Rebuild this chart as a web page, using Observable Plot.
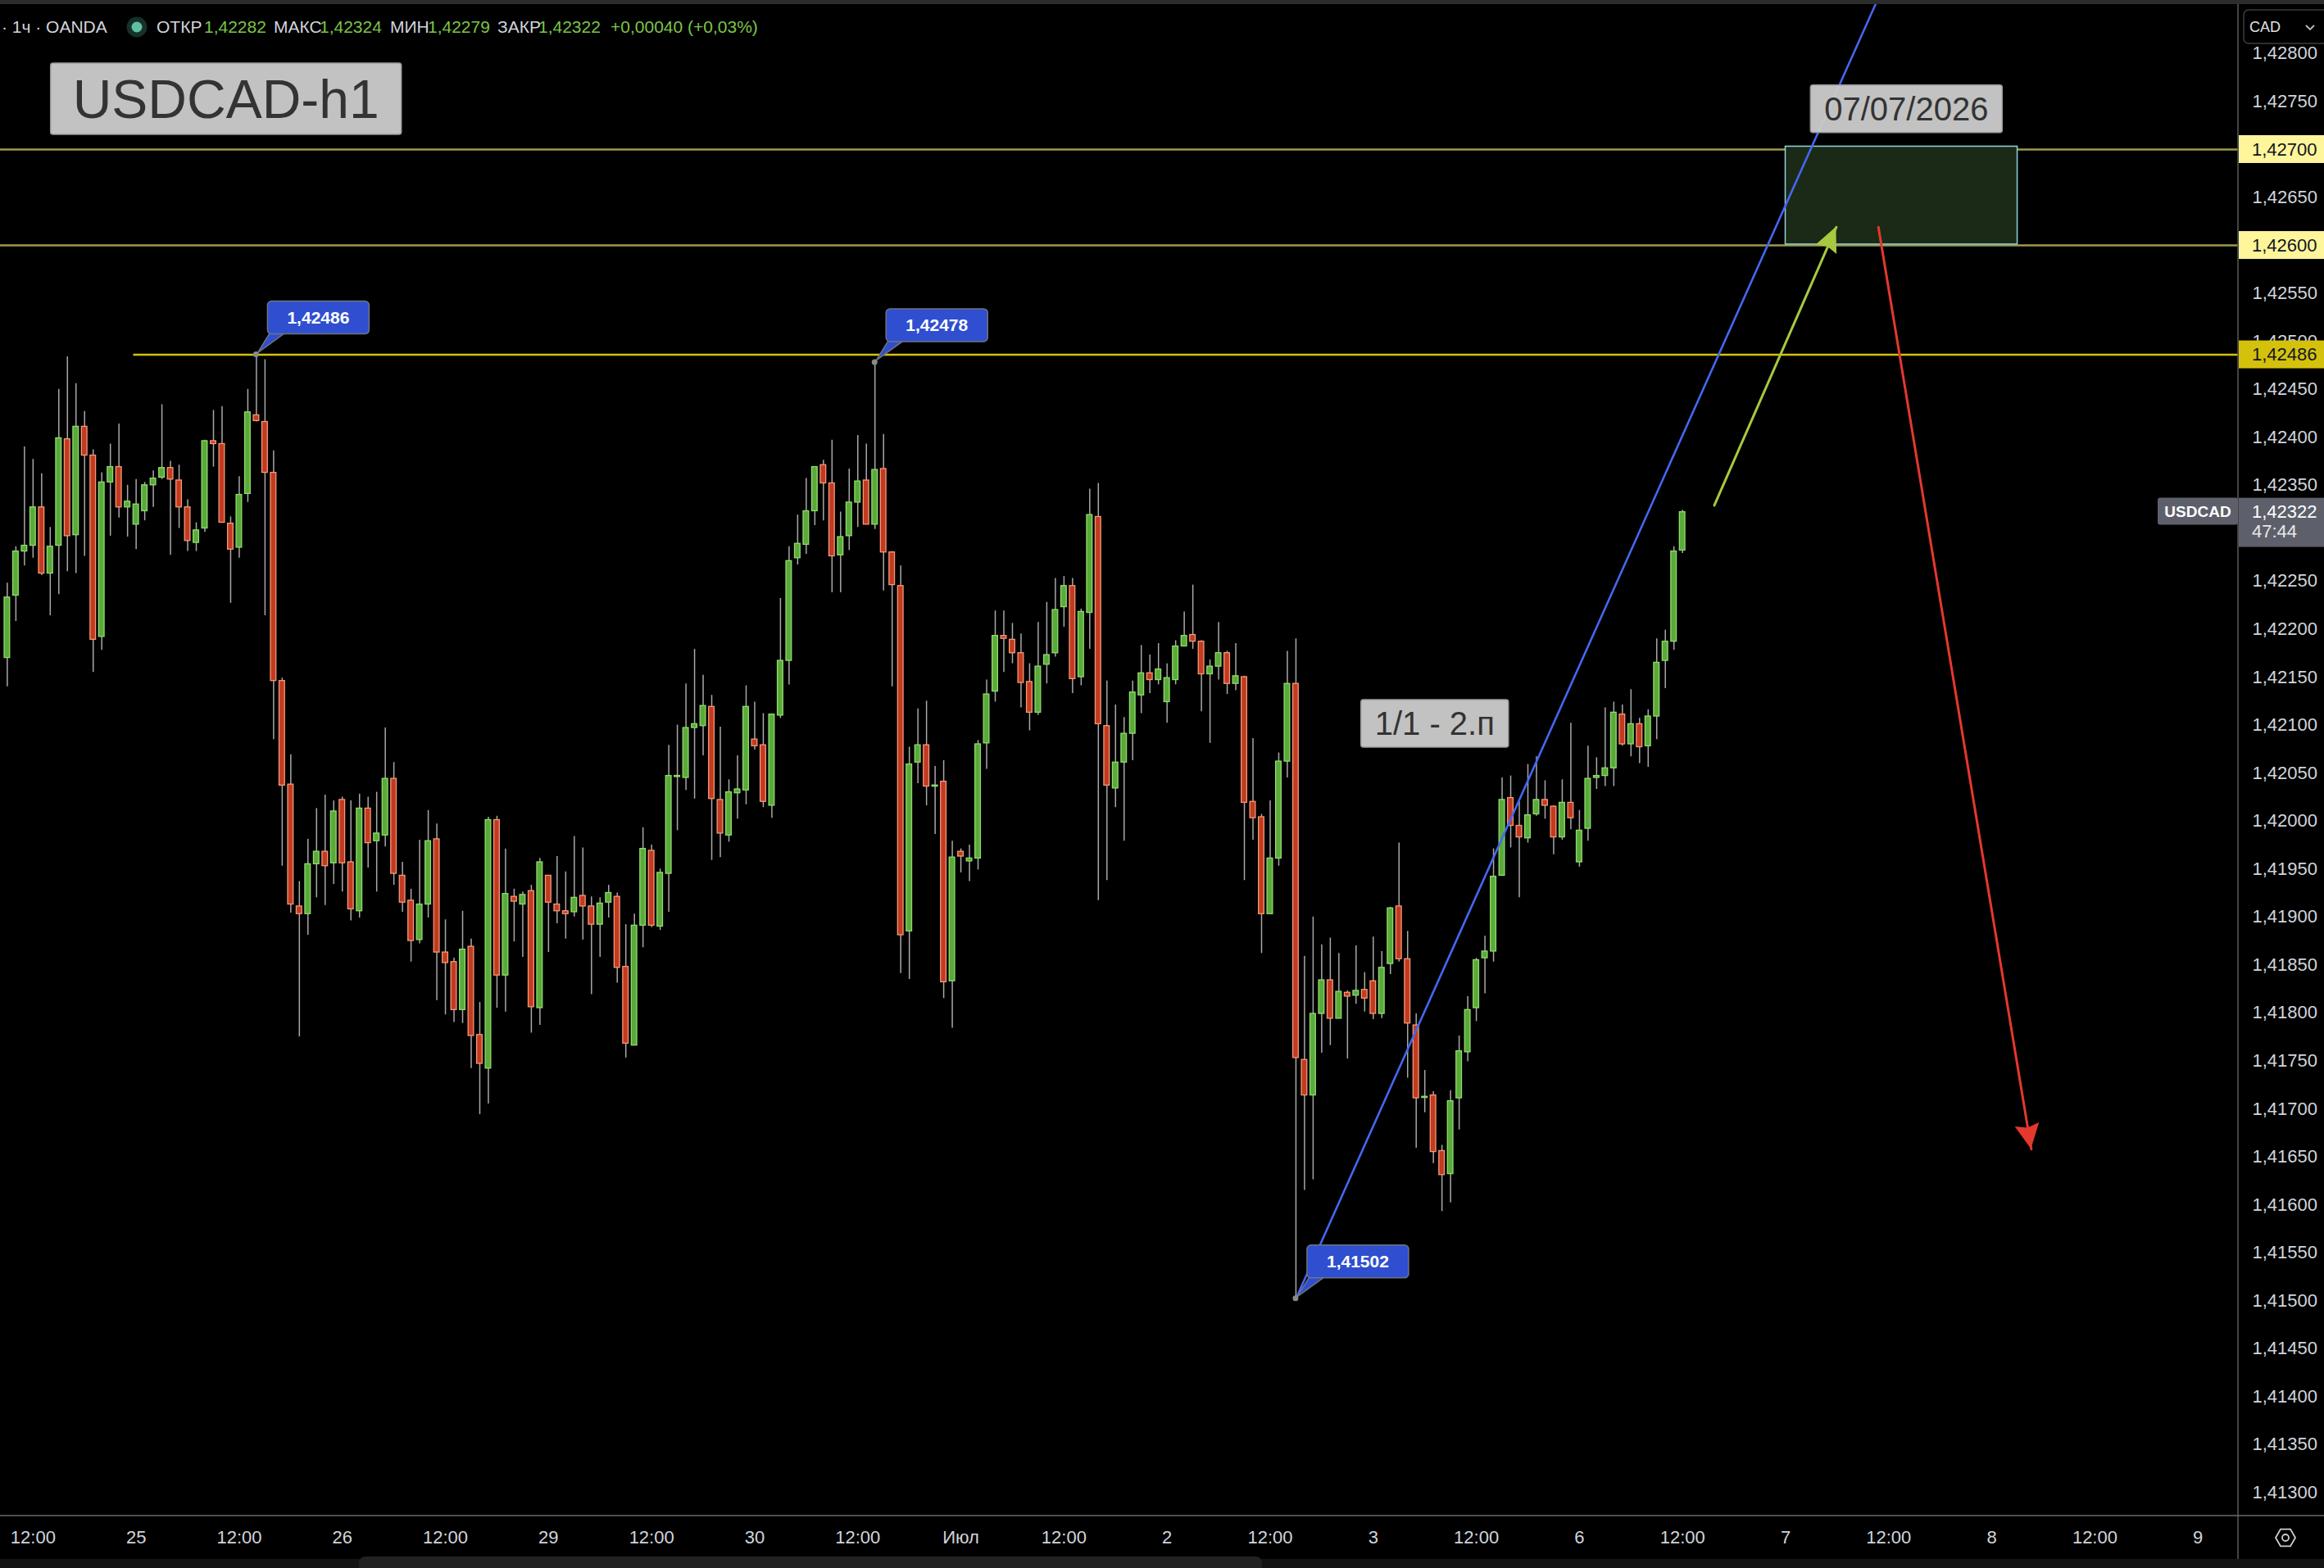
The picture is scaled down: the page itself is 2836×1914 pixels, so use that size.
<!DOCTYPE html>
<html><head><meta charset="utf-8">
<script src="https://cdn.jsdelivr.net/npm/d3@7"></script>
<script src="https://cdn.jsdelivr.net/npm/@observablehq/plot@0.6"></script>
<style>html,body{margin:0;padding:0;background:#000;overflow:hidden}</style>
</head><body><div id="chart"></div>
<script>
// ---- hourly OHLC bars (USDCAD, OANDA, 1h) ----
const firstBarHour = 9; // hours since 24 Jun 00:00 on the trading-time axis
const openP = [1.42170,1.42235,1.42281,1.42287,1.42327,1.42258,1.42287,1.42398,1.42298,1.42411,1.42381,1.42192,1.42353,1.42369,1.42327,1.42309,1.42323,1.42350,1.42358,1.42368,1.42355,1.42327,1.42290,1.42305,1.42396,1.42393,1.42310,1.42285,1.42341,1.42423,1.42416,1.42363,1.42146,1.42038,1.41911,1.41903,1.41955,1.41968,1.41956,1.42022,1.41957,1.41906,1.42013,1.41979,1.41985,1.42044,1.41943,1.41917,1.41876,1.41913,1.41981,1.41863,1.41853,1.41803,1.41869,1.41777,1.41742,1.42001,1.41839,1.41921,1.41913,1.41927,1.41805,1.41943,1.41913,1.41906,1.41905,1.41922,1.41911,1.41892,1.41915,1.41921,1.41848,1.41766,1.41891,1.41969,1.41890,1.41945,1.42046,1.42045,1.42097,1.42099,1.42119,1.42022,1.41985,1.42029,1.42032,1.42085,1.42079,1.42016,1.42110,1.42167,1.42274,1.42288,1.42323,1.42371,1.42352,1.42277,1.42297,1.42332,1.42355,1.42309,1.42367,1.42280,1.42245,1.41885,1.42061,1.42079,1.42036,1.42041,1.41833,1.41968,1.41958,1.41961,1.42081,1.42135,1.42193,1.42189,1.42175,1.42145,1.42113,1.42163,1.42175,1.42223,1.42245,1.42150,1.42217,1.42317,1.42099,1.42034,1.42061,1.42091,1.42131,1.42154,1.42147,1.42124,1.42147,1.42182,1.42194,1.42187,1.42153,1.42161,1.42175,1.42143,1.42150,1.42020,1.42004,1.41903,1.41961,1.42062,1.42143,1.41751,1.41714,1.41799,1.41834,1.41794,1.41821,1.41818,1.41824,1.41833,1.41799,1.41851,1.41911,1.41856,1.41787,1.41712,1.41714,1.41656,1.41632,1.41711,1.41759,1.41805,1.41857,1.41864,1.41943,1.42024,1.41995,1.41982,1.42007,1.42022,1.42015,1.41983,1.42019,1.41957,1.41992,1.42045,1.42047,1.42055,1.42111,1.42080,1.42101,1.42078,1.42109,1.42167,1.42187,1.42282];
const highP = [1.42248,1.42286,1.42390,1.42377,1.42362,1.42306,1.42450,1.42484,1.42456,1.42427,1.42387,1.42363,1.42393,1.42414,1.42350,1.42356,1.42353,1.42365,1.42434,1.42375,1.42371,1.42335,1.42311,1.42397,1.42428,1.42432,1.42317,1.42359,1.42450,1.42486,1.42481,1.42386,1.42149,1.42069,1.41937,1.41981,1.42013,1.42027,1.42021,1.42025,1.42021,1.42028,1.42025,1.42030,1.42097,1.42061,1.41957,1.41929,1.41980,1.42011,1.41997,1.41897,1.41857,1.41906,1.41877,1.41811,1.42004,1.42005,1.41971,1.41929,1.41926,1.41933,1.41961,1.41943,1.41963,1.41947,1.41984,1.41972,1.41921,1.41920,1.41933,1.41925,1.41892,1.41903,1.41993,1.41975,1.41950,1.42079,1.42100,1.42143,1.42179,1.42152,1.42131,1.42098,1.42043,1.42068,1.42141,1.42124,1.42112,1.42111,1.42232,1.42286,1.42319,1.42357,1.42369,1.42376,1.42397,1.42322,1.42367,1.42402,1.42393,1.42478,1.42403,1.42281,1.42266,1.42077,1.42117,1.42125,1.42057,1.42063,1.41979,1.41971,1.41975,1.42084,1.42147,1.42219,1.42219,1.42206,1.42195,1.42164,1.42207,1.42228,1.42253,1.42255,1.42253,1.42221,1.42346,1.42352,1.42146,1.42121,1.42108,1.42146,1.42183,1.42173,1.42185,1.42164,1.42188,1.42218,1.42246,1.42188,1.42168,1.42207,1.42177,1.42185,1.42151,1.42086,1.42007,1.42021,1.42071,1.42177,1.42190,1.41859,1.41900,1.41871,1.41878,1.41862,1.41823,1.41870,1.41842,1.41879,1.41864,1.41910,1.41977,1.41885,1.41799,1.41740,1.41718,1.41662,1.41719,1.41776,1.41817,1.41857,1.41880,1.41971,1.42045,1.42047,1.42020,1.42059,1.42067,1.42042,1.42016,1.42043,1.42102,1.42011,1.42078,1.42066,1.42118,1.42124,1.42121,1.42137,1.42107,1.42116,1.42190,1.42199,1.42286,1.42324];
const lowP = [1.42140,1.42208,1.42266,1.42274,1.42256,1.42214,1.42236,1.42260,1.42258,1.42276,1.42155,1.42178,1.42297,1.42316,1.42296,1.42283,1.42313,1.42327,1.42356,1.42277,1.42305,1.42281,1.42281,1.42301,1.42369,1.42311,1.42227,1.42274,1.42332,1.42416,1.42214,1.42085,1.41953,1.41904,1.41775,1.41881,1.41920,1.41912,1.41934,1.41926,1.41896,1.41899,1.41951,1.41926,1.41973,1.41933,1.41905,1.41853,1.41872,1.41899,1.41813,1.41798,1.41790,1.41789,1.41742,1.41694,1.41705,1.41805,1.41801,1.41874,1.41858,1.41779,1.41787,1.41863,1.41893,1.41877,1.41900,1.41876,1.41819,1.41858,1.41899,1.41831,1.41753,1.41766,1.41868,1.41889,1.41886,1.41905,1.41990,1.42032,1.42023,1.42068,1.41959,1.41962,1.41978,1.42002,1.42017,1.42074,1.42014,1.42003,1.42107,1.42142,1.42267,1.42278,1.42308,1.42313,1.42238,1.42238,1.42282,1.42306,1.42309,1.42304,1.42240,1.42140,1.41841,1.41835,1.42039,1.42016,1.41986,1.41815,1.41784,1.41946,1.41937,1.41949,1.42054,1.42124,1.42155,1.42164,1.42118,1.42094,1.42110,1.42143,1.42171,1.42202,1.42133,1.42141,1.42179,1.41917,1.41938,1.42014,1.41979,1.42063,1.42112,1.42133,1.42142,1.42102,1.42142,1.42182,1.42179,1.42114,1.42081,1.42147,1.42132,1.42136,1.41938,1.41980,1.41862,1.41903,1.41953,1.42045,1.41502,1.41615,1.41626,1.41758,1.41766,1.41794,1.41752,1.41809,1.41801,1.41793,1.41794,1.41840,1.41853,1.41732,1.41659,1.41696,1.41643,1.41593,1.41602,1.41678,1.41749,1.41791,1.41820,1.41853,1.41943,1.41972,1.41920,1.41977,1.42005,1.42002,1.41965,1.41980,1.41991,1.41952,1.41979,1.42033,1.42036,1.42036,1.42078,1.42067,1.42060,1.42056,1.42085,1.42138,1.42178,1.42279];
const closeP = [1.42233,1.42281,1.42287,1.42327,1.42258,1.42286,1.42399,1.42297,1.42411,1.42381,1.42189,1.42353,1.42369,1.42327,1.42333,1.42330,1.42350,1.42357,1.42368,1.42356,1.42327,1.42292,1.42303,1.42396,1.42393,1.42311,1.42283,1.42340,1.42426,1.42417,1.42363,1.42146,1.42037,1.41913,1.41903,1.41955,1.41968,1.41953,1.42010,1.41956,1.41908,1.42013,1.41977,1.41987,1.42044,1.41945,1.41915,1.41875,1.41913,1.41979,1.41863,1.41852,1.41803,1.41866,1.41776,1.41747,1.42001,1.41839,1.41924,1.41916,1.41923,1.41806,1.41957,1.41915,1.41906,1.41903,1.41920,1.41911,1.41892,1.41914,1.41925,1.41847,1.41768,1.41891,1.41971,1.41891,1.41946,1.42047,1.42047,1.42097,1.42101,1.42120,1.42023,1.41987,1.42030,1.42033,1.42119,1.42078,1.42020,1.42111,1.42167,1.42271,1.42289,1.42323,1.42369,1.42352,1.42276,1.42296,1.42332,1.42354,1.42309,1.42366,1.42280,1.42246,1.41881,1.42059,1.42079,1.42036,1.42037,1.41832,1.41962,1.41963,1.41961,1.42080,1.42132,1.42193,1.42190,1.42175,1.42144,1.42113,1.42161,1.42173,1.42220,1.42245,1.42148,1.42218,1.42319,1.42101,1.42037,1.42061,1.42091,1.42134,1.42154,1.42147,1.42158,1.42149,1.42182,1.42193,1.42187,1.42153,1.42161,1.42175,1.42143,1.42151,1.42019,1.42003,1.41903,1.41961,1.42062,1.42143,1.41753,1.41714,1.41799,1.41834,1.41794,1.41822,1.41817,1.41823,1.41815,1.41799,1.41847,1.41909,1.41856,1.41789,1.41711,1.41712,1.41655,1.41631,1.41708,1.41760,1.41803,1.41855,1.41864,1.41942,1.42022,1.41995,1.41983,1.42006,1.42022,1.42016,1.41983,1.42019,1.42003,1.41990,1.42044,1.42047,1.42055,1.42113,1.42080,1.42101,1.42077,1.42109,1.42165,1.42187,1.42281,1.42322];

// ---- axes (labels hidden behind price tags are left out) ----
const yTicks = [1.41300,1.41350,1.41400,1.41450,1.41500,1.41550,1.41600,1.41650,1.41700,1.41750,1.41800,1.41850,1.41900,1.41950,1.42000,1.42050,1.42100,1.42150,1.42200,1.42250,1.42350,1.42400,1.42450,1.42500,1.42550,1.42650,1.42750,1.42800];
const xTickHours = [12,24,36,48,60,72,84,96,108,120,132,144,156,168,180,192,204,216,228,240,252,264];
const xTickLabels = ["12:00","25","12:00","26","12:00","29","12:00","30","12:00","Июл","12:00","2","12:00","3","12:00","6","12:00","7","12:00","8","12:00","9"];

// ---- drawings ----
const levelsFull = [1.42700, 1.42600];          // horizontal lines across the chart
const levelRay = [{p: 1.42486, t1: 23.7}];       // ray from the first high
const targetZone = [{t1: 216, t2: 243, p1: 1.42601, p2: 1.42703}];
const trendPts = [{t: 159, p: 1.41502}, {t: 228, p: 1.42882}];
const upArrow = [{t1: 207.7, p1: 1.42329, t2: 221.9, p2: 1.42619}];
const downArrow = [{t1: 226.8, p1: 1.42619, t2: 244.6, p2: 1.41658}];
const callouts = [{t: 38, p: 1.42486, label: "1,42486"}, {t: 110, p: 1.42478, label: "1,42478"}, {t: 159, p: 1.41502, label: "1,41502"}];
const textBoxes = [
  {t: 34.5, p: 1.427525, label: "USDCAD-h1", size: 66, w: 428, h: 87},
  {t: 230.1, p: 1.42742, label: "07/07/2026", size: 40, w: 234, h: 58},
  {t: 175.2, p: 1.421014, label: "1/1 - 2.п", size: 40, w: 180, h: 58}
];
const axisLevelTags = [{p: 1.42700, fill: "#fff59a"}, {p: 1.42600, fill: "#fff59a"}, {p: 1.42486, fill: "#d4c10c"}];
const lastPrice = 1.42322, countdown = "47:44";
const legendItems = [["ОТКР","1,42282"],["МАКС","1,42324"],["МИН","1,42279"],["ЗАКР","1,42322"]];
const legendChange = "+0,00040 (+0,03%)";

const bars = openP.map((o, i) => {
  const c = closeP[i];
  let lo = Math.min(o, c), hi = Math.max(o, c);
  if (hi - lo < 0.000012) { const m = (hi + lo) / 2; lo = m - 0.000006; hi = m + 0.000006; }
  return {t: firstBarHour + i, o, h: highP[i], l: lowP[i], c, lo, hi, up: c >= o};
});

const W = 2836, H = 1914, mR = 105, mB = 65;
const xDomain = [8.2, 268.7], yDomain = [1.412764, 1.428554];
const fmt = d => d.toFixed(5).replace(".", ",");
const FONT = "'Liberation Sans', Arial, sans-serif";

const plot = Plot.plot({
  width: W, height: H, marginLeft: 0, marginRight: mR, marginTop: 0, marginBottom: mB,
  x: {domain: xDomain, label: null},
  y: {domain: yDomain, label: null},
  style: {background: "#000", color: "#d1d4dc", fontFamily: FONT, fontSize: "22px", overflow: "hidden"},
  marks: [
    Plot.axisY({anchor: "right", ticks: yTicks, tickFormat: fmt, tickSize: 0, tickPadding: 17, label: null, fill: "#d1d4dc"}),
    Plot.axisX({anchor: "bottom", ticks: xTickHours, tickFormat: d => xTickLabels[xTickHours.indexOf(d)], tickSize: 0, tickPadding: 19, label: null, fill: "#d1d4dc"}),
    Plot.ruleY(levelsFull, {y: d => d, stroke: "#9e9a48", strokeWidth: 2.4}),
    Plot.ruleY(levelRay, {y: "p", x1: "t1", x2: () => xDomain[1], stroke: "#d6c20a", strokeWidth: 2.4}),
    Plot.rect(targetZone, {x1: "t1", x2: "t2", y1: "p1", y2: "p2", fill: "#1b2a16", stroke: "#8fd3df", strokeWidth: 1.5}),
    Plot.ruleX(bars, {x: "t", y1: "l", y2: "h", stroke: "#a8a8a8", strokeWidth: 1.5}),
    Plot.rect(bars.filter(d => d.up), {x1: d => d.t - 0.32, x2: d => d.t + 0.32, y1: "lo", y2: "hi", fill: "#5aa93b", stroke: "#90dc6c", strokeWidth: 1.3}),
    Plot.rect(bars.filter(d => !d.up), {x1: d => d.t - 0.32, x2: d => d.t + 0.32, y1: "lo", y2: "hi", fill: "#c23a21", stroke: "#f39a76", strokeWidth: 1.3}),
    Plot.line(trendPts, {x: "t", y: "p", stroke: "#4467f2", strokeWidth: 2.6, clip: true}),
    Plot.link(upArrow, {x1: "t1", y1: "p1", x2: "t2", y2: "p2", stroke: "#a7c940", strokeWidth: 3, strokeLinecap: "round"}),
    Plot.link(downArrow, {x1: "t1", y1: "p1", x2: "t2", y2: "p2", stroke: "#e5382c", strokeWidth: 3, strokeLinecap: "round"})
  ]
});

document.getElementById("chart").appendChild(plot);
const svg = d3.select(plot.tagName.toLowerCase() === "svg" ? plot : plot.querySelector("svg"));
const sxObj = plot.scale("x"), syObj = plot.scale("y");
const X = sxObj && sxObj.apply ? v => sxObj.apply(v) : d3.scaleLinear(xDomain, [0, W - mR]);
const Y = syObj && syObj.apply ? v => syObj.apply(v) : d3.scaleLinear(yDomain, [H - mB, 0]);
const axisX0 = W - mR, axisY0 = H - mB;
const g = svg.append("g").attr("font-family", FONT).attr("text-anchor", "start");

// arrowheads
function head(a, len, hw, color) {
  const x1 = X(a.t1), y1 = Y(a.p1), x2 = X(a.t2), y2 = Y(a.p2);
  const L = Math.hypot(x2 - x1, y2 - y1), ux = (x2 - x1) / L, uy = (y2 - y1) / L;
  const bx = x2 - ux * len, by = y2 - uy * len;
  g.append("path").attr("d", `M${x2},${y2}L${bx - uy * hw},${by + ux * hw}L${bx + ux * 4},${by + uy * 4}L${bx + uy * hw},${by - ux * hw}Z`).attr("fill", color);
}
head(upArrow[0], 30, 14, "#a7c940");
head(downArrow[0], 30, 15, "#e5382c");

// frame lines
g.append("line").attr("x1", axisX0).attr("x2", axisX0).attr("y1", 0).attr("y2", 1903).attr("stroke", "#5a5a5a").attr("stroke-width", 1.5);
g.append("line").attr("x1", 0).attr("x2", W).attr("y1", axisY0 + 1).attr("y2", axisY0 + 1).attr("stroke", "#6a6a6a").attr("stroke-width", 1.5);

// axis level tags
axisLevelTags.forEach(d => {
  const y = Y(d.p);
  g.append("rect").attr("x", axisX0 + 1).attr("y", y - 17).attr("width", mR).attr("height", 34).attr("fill", d.fill);
  g.append("text").attr("x", axisX0 + 17).attr("y", y).attr("dy", "0.35em").attr("font-size", 22).attr("fill", "#131722").text(fmt(d.p));
});
// last price tags
{
  const y = Y(lastPrice);
  g.append("rect").attr("x", 2633).attr("y", y - 17).attr("width", axisX0 - 2633).attr("height", 33).attr("rx", 3).attr("fill", "#5d606b");
  g.append("text").attr("x", (2633 + axisX0) / 2).attr("y", y).attr("dy", "0.35em").attr("text-anchor", "middle").attr("font-size", 19).attr("font-weight", "bold").attr("fill", "#fff").text("USDCAD");
  g.append("rect").attr("x", axisX0 + 1).attr("y", y - 17).attr("width", mR).attr("height", 60).attr("fill", "#5d606b");
  g.append("text").attr("x", axisX0 + 17).attr("y", y).attr("dy", "0.35em").attr("font-size", 22).attr("fill", "#fff").text(fmt(lastPrice));
  g.append("text").attr("x", axisX0 + 17).attr("y", y + 24).attr("dy", "0.35em").attr("font-size", 22).attr("fill", "#e8e8e8").text(countdown);
}

// callouts
callouts.forEach(d => {
  const px = X(d.t), py = Y(d.p);
  const bx = px + 14, by = py - 65, bw = 124, bh = 40;
  g.append("path").attr("d", `M${bx + 4},${by + bh - 3}L${px + 2},${py - 2}L${bx + 24},${by + bh - 3}Z`).attr("fill", "#2f4fd0").attr("stroke", "#6f7480").attr("stroke-width", 1.5);
  g.append("rect").attr("x", bx).attr("y", by).attr("width", bw).attr("height", bh).attr("rx", 5).attr("fill", "#2f4fd0").attr("stroke", "#6f7480").attr("stroke-width", 1.5);
  g.append("text").attr("x", bx + bw / 2).attr("y", by + bh / 2).attr("dy", "0.35em").attr("text-anchor", "middle").attr("font-size", 21).attr("font-weight", "bold").attr("fill", "#fff").text(d.label);
  g.append("circle").attr("cx", px).attr("cy", py).attr("r", 3.5).attr("fill", "#8a8a8a");
});

// text boxes
textBoxes.forEach(d => {
  const cx = X(d.t), cy = Y(d.p);
  g.append("rect").attr("x", cx - d.w / 2).attr("y", cy - d.h / 2).attr("width", d.w).attr("height", d.h).attr("rx", 3).attr("fill", "#cccccc").attr("fill-opacity", 0.95).attr("stroke", "#9a9a9a").attr("stroke-width", 1.5);
  g.append("text").attr("x", cx).attr("y", cy).attr("dy", "0.36em").attr("text-anchor", "middle").attr("font-size", d.size).attr("fill", "#333").text(d.label);
});

// top strip + legend
g.append("rect").attr("x", 0).attr("y", 0).attr("width", W).attr("height", 5).attr("fill", "#2c2c2c");
g.append("text").attr("x", 2).attr("y", 40).attr("font-size", 21).attr("fill", "#d1d4dc").text("· 1ч · OANDA");
g.append("circle").attr("cx", 167).attr("cy", 33).attr("r", 12.5).attr("fill", "#16302a");
g.append("circle").attr("cx", 167).attr("cy", 33).attr("r", 6.5).attr("fill", "#5fbfa0");
const legX = [[191, 249], [334, 390], [476, 522], [607, 657]];
legendItems.forEach((it, i) => {
  g.append("text").attr("x", legX[i][0]).attr("y", 40).attr("font-size", 21).attr("fill", "#d1d4dc").text(it[0]);
  g.append("text").attr("x", legX[i][1]).attr("y", 40).attr("font-size", 21).attr("fill", "#7cc44a").text(it[1]);
});
g.append("text").attr("x", 745).attr("y", 40).attr("font-size", 21).attr("fill", "#7cc44a").text(legendChange);

// currency selector
g.append("rect").attr("x", 2738).attr("y", 12).attr("width", 110).attr("height", 41).attr("rx", 6).attr("fill", "#000").attr("stroke", "#3d3d3d").attr("stroke-width", 1.5);
g.append("text").attr("x", 2745).attr("y", 33).attr("dy", "0.35em").attr("font-size", 18).attr("fill", "#e0e0e0").text("CAD");
g.append("path").attr("d", "M2814,31l5,5l5,-5").attr("fill", "none").attr("stroke", "#bbb").attr("stroke-width", 1.8);

// bottom strip, scrollbar, settings icon
g.append("rect").attr("x", 0).attr("y", 1903).attr("width", W).attr("height", 11).attr("fill", "#131313");
g.append("rect").attr("x", 438).attr("y", 1900).attr("width", 1102).attr("height", 20).attr("rx", 8).attr("fill", "#222");
{
  const cx = 2789, cy = 1877, r = 12;
  const pts = d3.range(6).map(k => [cx + r * Math.cos(Math.PI / 3 * k), cy + r * Math.sin(Math.PI / 3 * k)]);
  g.append("polygon").attr("points", pts.map(p => p.join(",")).join(" ")).attr("fill", "none").attr("stroke", "#cfcfcf").attr("stroke-width", 1.8);
  g.append("circle").attr("cx", cx).attr("cy", cy).attr("r", 4).attr("fill", "none").attr("stroke", "#cfcfcf").attr("stroke-width", 1.8);
}
</script>
</body></html>
